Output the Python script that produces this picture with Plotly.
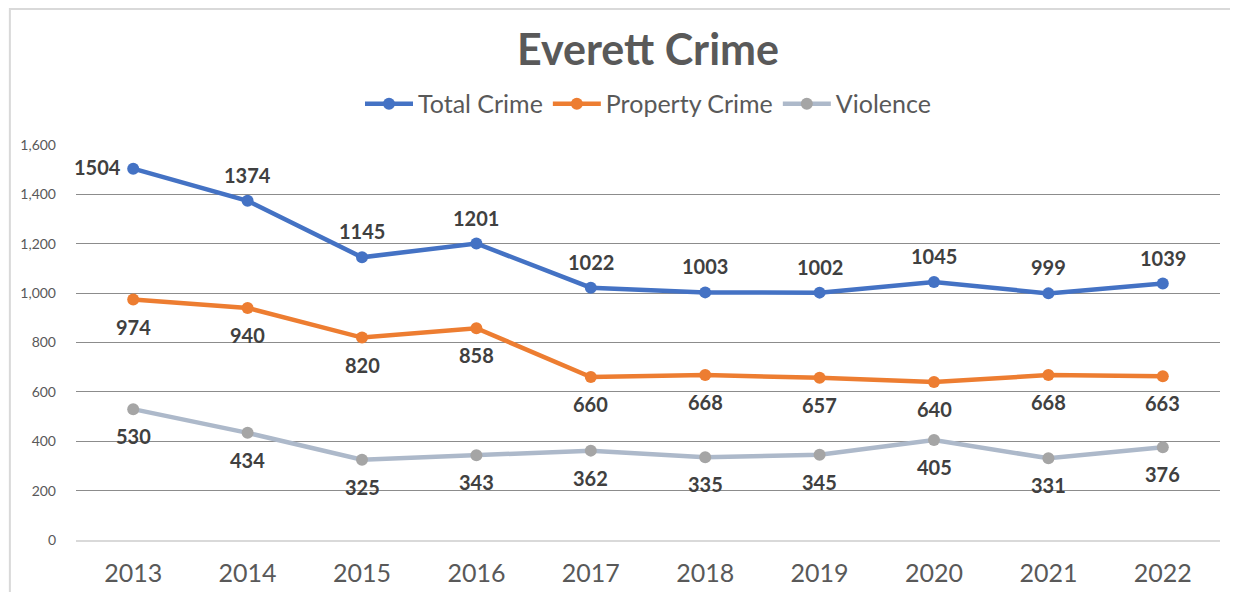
import plotly.graph_objects as go

# Everett crime counts by year
years = ["2013", "2014", "2015", "2016", "2017", "2018", "2019", "2020", "2021", "2022"]
total_crime = [1504, 1374, 1145, 1201, 1022, 1003, 1002, 1045, 999, 1039]
property_crime = [974, 940, 820, 858, 660, 668, 657, 640, 668, 663]
violence = [530, 434, 325, 343, 362, 335, 345, 405, 331, 376]

FONT = "Lato, 'Open Sans', sans-serif"

fig = go.Figure()

# Lines with markers
fig.add_trace(go.Scatter(
    x=years, y=total_crime, name="Total Crime", mode="lines+markers",
    line=dict(color="#4472C4", width=4.5),
    marker=dict(color="#4472C4", size=12),
))
fig.add_trace(go.Scatter(
    x=years, y=property_crime, name="Property Crime", mode="lines+markers",
    line=dict(color="#ED7D31", width=4.5),
    marker=dict(color="#ED7D31", size=12),
))
fig.add_trace(go.Scatter(
    x=years, y=violence, name="Violence", mode="lines+markers",
    line=dict(color="#ADB9CA", width=4.5),
    marker=dict(color="#A5A5A5", size=12),
))

# Data labels: total above (first one on the left), the others below.
# Category index is used for x so the axis autorange is not disturbed.
label_font = dict(family=FONT, size=20, color="#404040", weight="bold")
for i, v in enumerate(total_crime):
    if i == 0:
        fig.add_annotation(x=i, y=v, text=str(v), showarrow=False,
                           xshift=-36, yshift=2, font=label_font)
    else:
        fig.add_annotation(x=i, y=v, text=str(v), showarrow=False,
                           yshift=26, font=label_font)
for i, v in enumerate(property_crime):
    fig.add_annotation(x=i, y=v, text=str(v), showarrow=False,
                       yshift=-27, font=label_font)
for i, v in enumerate(violence):
    fig.add_annotation(x=i, y=v, text=str(v), showarrow=False,
                       yshift=-27, font=label_font)

# light chart frame
fig.add_shape(type="rect", xref="paper", yref="paper",
              x0=-0.0578, x1=1.0140, y0=-0.2, y1=1.344,
              line=dict(color="#D9D9D9", width=2), layer="below")

fig.update_layout(
    width=1238, height=592,
    paper_bgcolor="white", plot_bgcolor="white",
    margin=dict(l=68, r=26, t=137, b=60, autoexpand=False),
    title=dict(text="<b>Everett Crime</b>", x=0.5, xanchor="center",
               xref="paper", y=0.929, yanchor="middle",
               font=dict(family=FONT, size=43, color="#595959")),
    legend=dict(orientation="h", x=0.5, xanchor="center", xref="paper",
                y=1.104, yanchor="middle", yref="paper",
                font=dict(family=FONT, size=25, color="#595959"),
                itemwidth=48, tracegroupgap=0),
    showlegend=True,
    xaxis=dict(type="category", range=[-0.5, 9.5], showgrid=False,
               zeroline=False, showline=True, linecolor="#D9D9D9",
               linewidth=1.5, ticks="", ticklabelstandoff=10,
               tickfont=dict(family=FONT, size=25, color="#595959")),
    yaxis=dict(range=[0, 1600], dtick=200, tickformat=",",
               showgrid=True, gridcolor="#8C8C8C", gridwidth=1,
               zeroline=False, showline=False, ticks="",
               ticklabelstandoff=19,
               tickfont=dict(family=FONT, size=14, color="#595959")),
)

fig.write_html("out.html")
